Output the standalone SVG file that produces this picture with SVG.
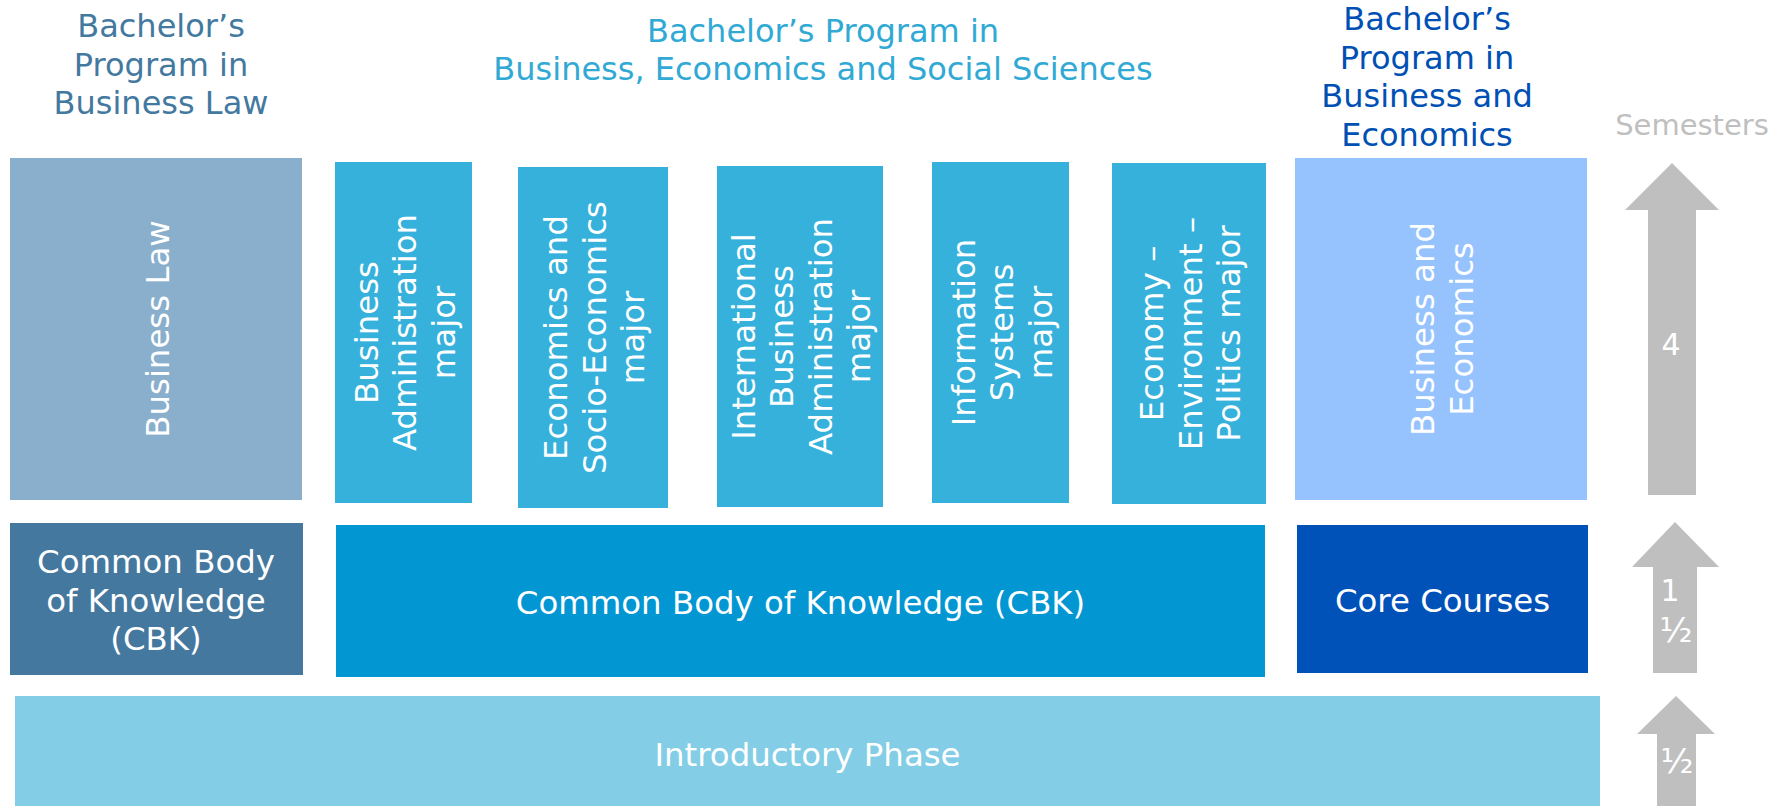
<svg xmlns="http://www.w3.org/2000/svg" width="1785" height="806" viewBox="0 0 1785 806">
<style>
text{font-family:'DejaVu Sans',Verdana,sans-serif;text-anchor:middle}
.t{font-size:32px}
.b{font-size:32.4px;fill:#ffffff}
.a{font-size:30px;fill:#ffffff}
.h{font-size:34px}
.arrow{fill:#bfbfbf}
</style>
<rect width="1785" height="806" fill="#ffffff"/>
<g id="titles">
<text class="t" fill="#44799f"><tspan x="161" y="37">Bachelor’s</tspan><tspan x="161" y="75.5">Program in</tspan><tspan x="161" y="114">Business Law</tspan></text>
<text class="t" fill="#31a9d5"><tspan x="823" y="42">Bachelor’s Program in</tspan><tspan x="823" y="79.5">Business, Economics and Social Sciences</tspan></text>
<text class="t" fill="#0050b4"><tspan x="1427" y="30">Bachelor’s</tspan><tspan x="1427" y="68.5">Program in</tspan><tspan x="1427" y="107">Business and</tspan><tspan x="1427" y="145.5">Economics</tspan></text>
<text x="1692" y="135" font-size="29" fill="#bfbfbf">Semesters</text>
</g>
<g id="business-law">
<rect x="10" y="158" width="292" height="342" fill="#8aafcc"/>
<text class="b" transform="translate(156,329) rotate(-90)" x="0" y="13">Business Law</text>
</g>
<g id="ba-major">
<rect x="335" y="162" width="137" height="341" fill="#36b1db"/>
<text class="b" transform="translate(403.5,332.5) rotate(-90)"><tspan x="0" y="-26">Business</tspan><tspan x="0" y="12.5">Administration</tspan><tspan x="0" y="51">major</tspan></text>
</g>
<g id="econ-major">
<rect x="518" y="167" width="150" height="341" fill="#36b1db"/>
<text class="b" transform="translate(593,337.5) rotate(-90)"><tspan x="0" y="-26">Economics and</tspan><tspan x="0" y="12.5">Socio-Economics</tspan><tspan x="0" y="51">major</tspan></text>
</g>
<g id="iba-major">
<rect x="717" y="166" width="166" height="341" fill="#36b1db"/>
<text class="b" transform="translate(800,336.5) rotate(-90)"><tspan x="0" y="-45.25">International</tspan><tspan x="0" y="-6.75">Business</tspan><tspan x="0" y="31.75">Administration</tspan><tspan x="0" y="70.25">major</tspan></text>
</g>
<g id="is-major">
<rect x="932" y="162" width="137" height="341" fill="#36b1db"/>
<text class="b" transform="translate(1000.5,332.5) rotate(-90)"><tspan x="0" y="-26">Information</tspan><tspan x="0" y="12.5">Systems</tspan><tspan x="0" y="51">major</tspan></text>
</g>
<g id="eep-major">
<rect x="1112" y="163" width="154" height="341" fill="#36b1db"/>
<text class="b" transform="translate(1189,333.5) rotate(-90)"><tspan x="0" y="-26">Economy –</tspan><tspan x="0" y="12.5">Environment –</tspan><tspan x="0" y="51">Politics major</tspan></text>
</g>
<g id="business-economics">
<rect x="1295" y="158" width="292" height="342" fill="#96c3fd"/>
<text class="b" transform="translate(1441,329) rotate(-90)"><tspan x="0" y="-6.75">Business and</tspan><tspan x="0" y="31.75">Economics</tspan></text>
</g>
<g id="cbk-law">
<rect x="10" y="523" width="293" height="152" fill="#44789f"/>
<text class="b"><tspan x="156" y="573">Common Body</tspan><tspan x="156" y="611.5">of Knowledge</tspan><tspan x="156" y="650">(CBK)</tspan></text>
</g>
<g id="cbk-main">
<rect x="336" y="525" width="929" height="152" fill="#0296d3"/>
<text class="b" x="800.5" y="614">Common Body of Knowledge (CBK)</text>
</g>
<g id="core-courses">
<rect x="1297" y="525" width="291" height="148" fill="#0052b9"/>
<text class="b" x="1442.5" y="612">Core Courses</text>
</g>
<g id="introductory">
<rect x="15" y="696" width="1585" height="110" fill="#83cde6"/>
<text class="b" x="807.5" y="766">Introductory Phase</text>
</g>
<g id="connectors">
<g id="arrow-4">
<polygon class="arrow" points="1672,163 1719,210 1696,210 1696,495 1648,495 1648,210 1625,210"/>
<text class="a" x="1671" y="355">4</text>
</g>
<g id="arrow-1-5">
<polygon class="arrow" points="1675,522 1719,567 1697,567 1697,673 1653,673 1653,567 1632,567"/>
<text class="a"><tspan x="1670" y="601">1</tspan><tspan class="h" x="1676" y="642">½</tspan></text>
</g>
<g id="arrow-0-5">
<polygon class="arrow" points="1676,696 1715,734 1696,734 1696,806 1657,806 1657,734 1637,734"/>
<text class="a h" x="1677" y="773">½</text>
</g>
</g>
</svg>
